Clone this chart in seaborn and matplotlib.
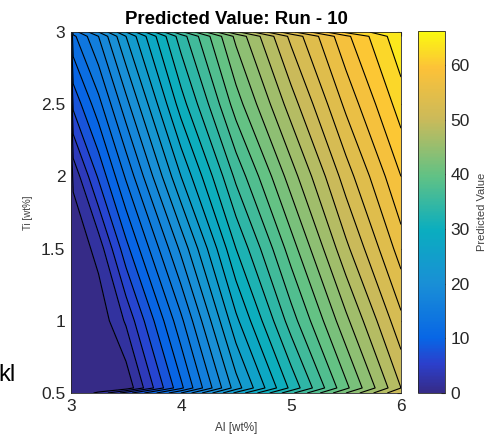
import numpy as np
import matplotlib
matplotlib.use('Agg')
import matplotlib.pyplot as plt
import seaborn as sns
from matplotlib.colors import LinearSegmentedColormap, Normalize
from matplotlib.cm import ScalarMappable

# grid (Al along x, Ti along y)
# the 3.0 column and the 0.5 / 3.0 rows are thin edge strips where the lines hook
al_wt = [3.0, 3.02, 3.25, 3.5, 4.0, 4.5, 5.0, 5.5, 6.0]
ti_wt = [0.5, 0.535, 1.0, 1.5, 2.0, 2.5, 2.97, 3.0]

pred_ti_050 = [0.0, 0.0, 2.5, 7.0, 16.0, 26.5, 35.5, 44.0, 52.0]
pred_ti_054 = [0.0, 0.0, 0.0, 0.5, 11.5, 23.0, 32.5, 41.5, 50.0]
pred_ti_100 = [0.0, 0.0, 0.5, 4.3, 15.5, 27.5, 37.0, 45.5, 53.5]
pred_ti_150 = [0.0, 0.2, 2.8, 9.3, 20.5, 32.0, 41.0, 49.5, 57.0]
pred_ti_200 = [0.5, 2.5, 8.3, 14.3, 26.0, 36.5, 45.0, 53.0, 60.0]
pred_ti_250 = [3.0, 8.5, 13.3, 19.3, 31.0, 41.0, 49.0, 56.5, 63.0]
pred_ti_297 = [9.0, 13.5, 18.0, 24.0, 35.0, 44.5, 52.5, 59.5, 65.5]
pred_ti_300 = [10.5, 15.0, 20.0, 26.0, 37.5, 47.5, 55.5, 62.5, 66.0]

cbar_ticks = [0, 10, 20, 30, 40, 50, 60]

sns.set_style('white')
plt.rcParams['font.family'] = ['Liberation Sans', 'DejaVu Sans']

# parula-like colormap
parula = LinearSegmentedColormap.from_list('parula', [
    (0.00, (0.21, 0.17, 0.53)),
    (0.08, (0.17, 0.25, 0.80)),
    (0.15, (0.03, 0.40, 0.90)),
    (0.30, (0.10, 0.56, 0.84)),
    (0.45, (0.04, 0.68, 0.75)),
    (0.60, (0.38, 0.76, 0.52)),
    (0.76, (0.80, 0.73, 0.35)),
    (0.90, (0.99, 0.76, 0.22)),
    (1.00, (0.98, 0.98, 0.06)),
])

X, Y = np.meshgrid(al_wt, ti_wt)
Z = np.array([pred_ti_050, pred_ti_054, pred_ti_100, pred_ti_150,
              pred_ti_200, pred_ti_250, pred_ti_297, pred_ti_300])

vmin, vmax = 0, 66.2
levels = np.arange(0, 68, 2)
norm = Normalize(vmin=vmin, vmax=vmax)
# each band takes the colour of its lower level, as in MATLAB contourf
band_colors = [parula(norm(lv)) for lv in levels[:-1]]

fig = plt.figure(figsize=(4.85, 4.36), dpi=100)
ax = fig.add_axes([0.1464, 0.0986, 0.6804, 0.828])
cax = fig.add_axes([0.8619, 0.0986, 0.0557, 0.830])

ax.contourf(X, Y, Z, levels=levels, colors=band_colors)
ax.contour(X, Y, Z, levels=levels[1:], colors='black', linewidths=0.8)

ax.set_xlim(3, 6)
ax.set_ylim(0.5, 3)
ax.set_xticks([3, 4, 5, 6])
ax.set_xticklabels(['3', '4', '5', '6'])
ax.set_yticks([0.5, 1, 1.5, 2, 2.5, 3])
ax.set_yticklabels(['0.5', '1', '1.5', '2', '2.5', '3'])
ax.tick_params(direction='in', length=3, labelsize=12.5, colors='#262626',
               top=True, right=True, pad=4)
for s in ax.spines.values():
    s.set_color('#262626')
    s.set_linewidth(0.6)

ax.set_title('Predicted Value: Run - 10', fontsize=13.4, fontweight='bold',
             color='black', pad=6)
ax.set_xlabel('Al [wt%]', fontsize=8.5, color='#404040', labelpad=6)
ax.set_ylabel('Ti [wt%]', fontsize=7, color='#404040', labelpad=6)

cb = fig.colorbar(ScalarMappable(norm=norm, cmap=parula), cax=cax)
cb.set_ticks(cbar_ticks)
cb.ax.tick_params(direction='in', length=3, labelsize=12.5, colors='#262626', pad=4)
cb.outline.set_edgecolor('#262626')
cb.outline.set_linewidth(0.6)
cb.set_label('Predicted Value', fontsize=8, color='#404040', labelpad=5)

# stray fragment of neighbouring text at the left edge
fig.text(-0.004, 0.115, 'kl', fontsize=17, color='black', ha='left', va='bottom')

fig.savefig('out.png', dpi=100)
